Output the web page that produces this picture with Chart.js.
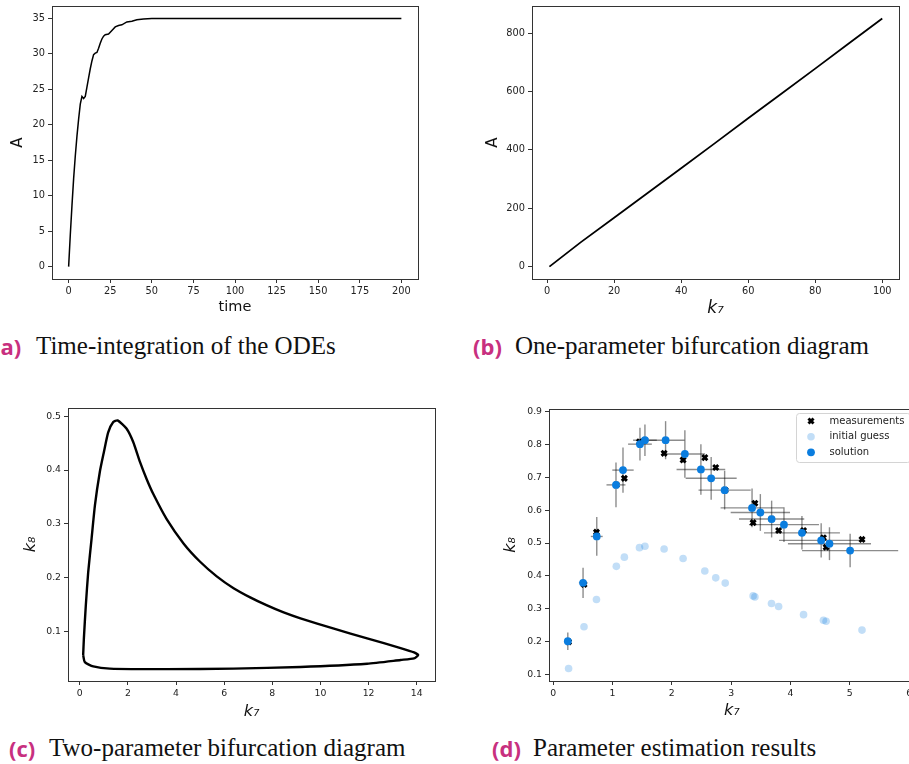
<!DOCTYPE html>
<html>
<head>
<meta charset="utf-8">
<script src="https://cdn.jsdelivr.net/npm/chart.js@4.4.1/dist/chart.umd.min.js"></script>
<style>
  html, body { margin: 0; padding: 0; background: #fff; overflow: hidden; }
  body { width: 909px; height: 764px; position: relative; }
  canvas { position: absolute; }
  .lab { position: absolute; font-family: 'Open Sans'; font-weight: 700; font-size: 22px; line-height: 30px; color: #c8307f; white-space: nowrap; }
  .cap { position: absolute; font-family: 'Liberation Serif'; font-size: 25px; line-height: 30px; color: #111; white-space: nowrap; }
</style>
</head>
<body>
<canvas id="ode" width="430" height="330" style="left:0;top:0"></canvas>
<canvas id="one" width="449" height="330" style="left:460px;top:0"></canvas>
<canvas id="two" width="450" height="330" style="left:0;top:395px"></canvas>
<canvas id="est" width="430" height="330" style="left:500px;top:395px"></canvas>

<div class="lab" style="left:-7px;top:331px">(a)</div>
<div class="cap" style="left:36px;top:331px">Time-integration of the ODEs</div>
<div class="lab" style="left:473px;top:331px">(b)</div>
<div class="cap" style="left:515px;top:331px">One-parameter bifurcation diagram</div>
<div class="lab" style="left:9px;top:733px">(c)</div>
<div class="cap" style="left:49px;top:733px">Two-parameter bifurcation diagram</div>
<div class="lab" style="left:492px;top:733px">(d)</div>
<div class="cap" style="left:533px;top:733px">Parameter estimation results</div>

<script>
// (a) time integration
const tTime = [0, 1, 2, 3, 4, 5, 6, 7, 8, 9, 10, 11, 12, 13, 14, 15, 16, 17, 18, 19, 20, 21, 22, 24, 26, 28, 30, 32, 35, 38, 41, 45, 50, 60, 200];
const aTime = [0, 4.5, 8.6, 12.4, 15.6, 18.4, 20.8, 22.9, 24.0, 23.7, 24.0, 25.3, 26.6, 27.9, 29.0, 29.9, 30.1, 30.2, 30.8, 31.5, 32.1, 32.5, 32.7, 32.8, 33.3, 33.8, 34.0, 34.1, 34.5, 34.6, 34.8, 34.9, 34.97, 35.0, 35.0];
const timeTicks = [0, 25, 50, 75, 100, 125, 150, 175, 200];
const aTicks = [0, 5, 10, 15, 20, 25, 30, 35];

// (b) one-parameter bifurcation
const k7One = [0.7, 10, 20, 30, 40, 50, 60, 70, 80, 90, 100];
const aOne = [0, 83, 167, 252, 337, 422, 508, 593, 678, 764, 850];
const k7OneTicks = [0, 20, 40, 60, 80, 100];
const aOneTicks = [0, 200, 400, 600, 800];

// (c) two-parameter bifurcation (closed curve)
const k7Two = [0.14, 0.21, 0.56, 1.25, 3.61, 6.39, 9.17, 11.94, 13.33, 13.89, 14.06, 13.89, 13.33, 11.94, 10.56, 9.17, 8.47, 7.78, 7.08, 6.39, 5.69, 5.0, 4.31, 3.61, 3.06, 2.78, 2.5, 2.22, 1.94, 1.57, 1.39, 1.18, 1.0, 0.83, 0.63, 0.49, 0.35, 0.25, 0.17, 0.14];
const k8Two = [0.057, 0.044, 0.036, 0.032, 0.031, 0.032, 0.035, 0.041, 0.048, 0.051, 0.057, 0.062, 0.070, 0.088, 0.106, 0.125, 0.136, 0.149, 0.164, 0.181, 0.203, 0.230, 0.264, 0.309, 0.355, 0.383, 0.415, 0.452, 0.477, 0.492, 0.489, 0.47, 0.433, 0.396, 0.335, 0.273, 0.211, 0.149, 0.088, 0.057];
const k7TwoTicks = [0, 2, 4, 6, 8, 10, 12, 14];
const k8TwoTicks = [0.1, 0.2, 0.3, 0.4, 0.5];

// (d) parameter estimation
const measK7 = [0.26, 0.52, 0.73, 1.065, 1.2, 1.455, 1.547, 1.87, 2.19, 2.556, 2.74, 2.90, 3.37, 3.40, 3.68, 3.80, 4.22, 4.555, 4.60, 5.205];
const measK8 = [0.199, 0.374, 0.533, 0.677, 0.697, 0.808, 0.813, 0.773, 0.753, 0.760, 0.730, 0.661, 0.562, 0.621, 0.573, 0.538, 0.538, 0.516, 0.487, 0.511];
const guessK8 = [0.118, 0.245, 0.328, 0.429, 0.457, 0.486, 0.490, 0.482, 0.453, 0.415, 0.394, 0.378, 0.339, 0.336, 0.316, 0.307, 0.282, 0.265, 0.262, 0.235];
const solK7 = [0.247, 0.504, 0.735, 1.059, 1.177, 1.463, 1.547, 1.895, 2.22, 2.49, 2.663, 2.89, 3.352, 3.492, 3.682, 3.89, 4.193, 4.517, 4.657, 5.005];
const solK8 = [0.201, 0.379, 0.520, 0.677, 0.722, 0.801, 0.813, 0.813, 0.771, 0.724, 0.697, 0.661, 0.607, 0.593, 0.573, 0.556, 0.531, 0.508, 0.498, 0.477];
const solErrK7 = [0.04, 0.07, 0.10, 0.16, 0.18, 0.20, 0.20, 0.32, 0.34, 0.41, 0.43, 0.44, 0.53, 0.50, 0.55, 0.59, 0.64, 0.71, 0.70, 0.81];
const solErrK8 = [0.027, 0.046, 0.059, 0.068, 0.069, 0.05, 0.048, 0.058, 0.072, 0.077, 0.065, 0.059, 0.059, 0.056, 0.056, 0.053, 0.051, 0.052, 0.05, 0.051];
const estK7Ticks = [0, 1, 2, 3, 4, 5, 6];
const estK8Ticks = [0.1, 0.2, 0.3, 0.4, 0.5, 0.6, 0.7, 0.8, 0.9];
const legendNames = ['measurements', 'initial guess', 'solution'];

const blue = '#0a7ddf';

Chart.defaults.font.family = 'DejaVu Sans';
Chart.defaults.color = '#222';
Chart.defaults.animation = false;

const pts = (xs, ys) => xs.map((x, i) => ({ x: x, y: ys[i] }));

// box around the axes, like matplotlib spines
const frame = {
  id: 'frame',
  afterDraw(chart) {
    const { ctx, chartArea: a } = chart;
    ctx.save();
    ctx.strokeStyle = '#333';
    ctx.lineWidth = 1;
    ctx.strokeRect(Math.round(a.left) + 0.5, Math.round(a.top) + 0.5, Math.round(a.right - a.left), Math.round(a.bottom - a.top));
    ctx.restore();
  }
};

function axis(o) {
  return {
    type: 'linear',
    min: o.min,
    max: o.max,
    afterBuildTicks: s => { s.ticks = o.ticks.map(v => ({ value: v })); },
    afterFit: s => {
      if (o.width) s.width = o.width;
      if (o.height) s.height = o.height;
      s.paddingTop = 0; s.paddingBottom = 0; s.paddingLeft = 0; s.paddingRight = 0;
    },
    border: { display: false },
    grid: { drawOnChartArea: false, drawTicks: true, tickLength: 4, color: '#333', lineWidth: 1 },
    ticks: { padding: 3, font: { size: o.tickSize }, color: '#222', maxRotation: 0, autoSkip: false },
    title: {
      display: true,
      text: o.title,
      color: '#111',
      font: { size: o.titleSize, style: o.italic ? 'italic' : 'normal' },
      padding: o.titlePad
    }
  };
}

function base(pad, xs, ys) {
  return {
    responsive: false,
    animation: false,
    layout: { padding: pad },
    plugins: { legend: { display: false }, tooltip: { enabled: false } },
    scales: { x: xs, y: ys }
  };
}

// (a)
new Chart(document.getElementById('ode'), {
  type: 'scatter',
  data: { datasets: [{ data: pts(tTime, aTime), showLine: true, borderColor: '#000', borderWidth: 1.5, pointRadius: 0, tension: 0 }] },
  options: base({ left: 0, top: 6, right: 12, bottom: 0 },
    axis({ min: -10, max: 210, ticks: timeTicks, height: 51, tickSize: 9.8, title: 'time', titleSize: 14.5, titlePad: { top: 0, bottom: 14 } }),
    axis({ min: -1.75, max: 36.75, ticks: aTicks, width: 52, tickSize: 9.8, title: 'A', titleSize: 15, titlePad: { top: 9.3, bottom: 0 } })),
  plugins: [frame]
});

// (b)
new Chart(document.getElementById('one'), {
  type: 'scatter',
  data: { datasets: [{ data: pts(k7One, aOne), showLine: true, borderColor: '#000', borderWidth: 1.8, pointRadius: 0, tension: 0 }] },
  options: base({ left: 0, top: 6, right: 10, bottom: 0 },
    axis({ min: -4.5, max: 105, ticks: k7OneTicks, height: 51, tickSize: 9.8, title: 'k₇', italic: true, titleSize: 17, titlePad: { top: 0, bottom: 11 } }),
    axis({ min: -42.5, max: 892.5, ticks: aOneTicks, width: 72, tickSize: 9.8, title: 'A', titleSize: 15, titlePad: { top: 24, bottom: 0 } })),
  plugins: [frame]
});

// (c)
new Chart(document.getElementById('two'), {
  type: 'scatter',
  data: { datasets: [{ data: pts(k7Two, k8Two), showLine: true, borderColor: '#000', borderWidth: 2.4, pointRadius: 0, tension: 0.2 }] },
  options: base({ left: 0, top: 13, right: 15, bottom: 0 },
    axis({ min: -0.49, max: 14.76, ticks: k7TwoTicks, height: 44, tickSize: 9.3, title: 'k₇', italic: true, titleSize: 16, titlePad: { top: 0, bottom: 4 } }),
    axis({ min: 0.009, max: 0.515, ticks: k8TwoTicks, width: 68, tickSize: 9.3, title: 'k₈', italic: true, titleSize: 16, titlePad: { top: 21, bottom: 0 } })),
  plugins: [frame]
});

// (d)
const errorBars = {
  id: 'errorBars',
  beforeDatasetsDraw(chart) {
    const { ctx, scales: { x, y } } = chart;
    ctx.save();
    ctx.strokeStyle = 'rgba(0,0,0,0.45)';
    ctx.lineWidth = 1.4;
    solK7.forEach((u, i) => {
      const v = solK8[i];
      const px = x.getPixelForValue(u), py = y.getPixelForValue(v);
      ctx.beginPath();
      ctx.moveTo(x.getPixelForValue(u - solErrK7[i]), py);
      ctx.lineTo(x.getPixelForValue(u + solErrK7[i]), py);
      ctx.stroke();
      ctx.beginPath();
      ctx.moveTo(px, y.getPixelForValue(v - solErrK8[i]));
      ctx.lineTo(px, y.getPixelForValue(v + solErrK8[i]));
      ctx.stroke();
    });
    ctx.restore();
  }
};

const estLegend = {
  id: 'estLegend',
  afterDraw(chart) {
    const ctx = chart.ctx;
    ctx.save();
    ctx.fillStyle = 'rgba(255,255,255,0.85)';
    ctx.strokeStyle = '#d4d4d4';
    ctx.lineWidth = 1;
    ctx.beginPath();
    ctx.roundRect(296.5, 18.5, 114, 49, 3);
    ctx.fill();
    ctx.stroke();
    const rows = [26, 41.7, 57.3];
    legendNames.forEach((name, i) => {
      const ds = chart.data.datasets.find(d => d.label === name);
      ctx.fillStyle = ds.backgroundColor;
      ctx.strokeStyle = ds.borderColor;
      ctx.lineWidth = ds.borderWidth;
      Chart.helpers.drawPoint(ctx, { pointStyle: ds.pointStyle, radius: ds.pointRadius, borderWidth: ds.borderWidth, rotation: 0 }, 311, rows[i]);
      ctx.fillStyle = '#222';
      ctx.font = '10px "DejaVu Sans"';
      ctx.textBaseline = 'middle';
      ctx.fillText(name, 329.5, rows[i]);
    });
    ctx.restore();
  }
};

new Chart(document.getElementById('est'), {
  type: 'scatter',
  data: {
    datasets: [
      { label: 'measurements', data: pts(measK7, measK8), pointStyle: 'crossRot', pointRadius: 3.6, borderWidth: 2.9, borderColor: '#000', backgroundColor: '#000', order: 2 },
      { label: 'initial guess', data: pts(measK7, guessK8), pointStyle: 'circle', pointRadius: 3.8, borderWidth: 0, borderColor: 'rgba(10,125,223,0.25)', backgroundColor: 'rgba(10,125,223,0.25)', order: 3 },
      { label: 'solution', data: pts(solK7, solK8), pointStyle: 'circle', pointRadius: 3.9, borderWidth: 0, borderColor: blue, backgroundColor: blue, order: 1 }
    ]
  },
  options: base({ left: 0, top: 14, right: 15.5, bottom: 0 },
    axis({ min: -0.07, max: 6.09, ticks: estK7Ticks, height: 44, tickSize: 9.3, title: 'k₇', italic: true, titleSize: 16, titlePad: { top: 0, bottom: 5 } }),
    axis({ min: 0.08, max: 0.908, ticks: estK8Ticks, width: 49, tickSize: 9.3, title: 'k₈', italic: true, titleSize: 16, titlePad: { top: 1, bottom: 0 } })),
  plugins: [errorBars, frame, estLegend]
});
</script>
</body>
</html>
